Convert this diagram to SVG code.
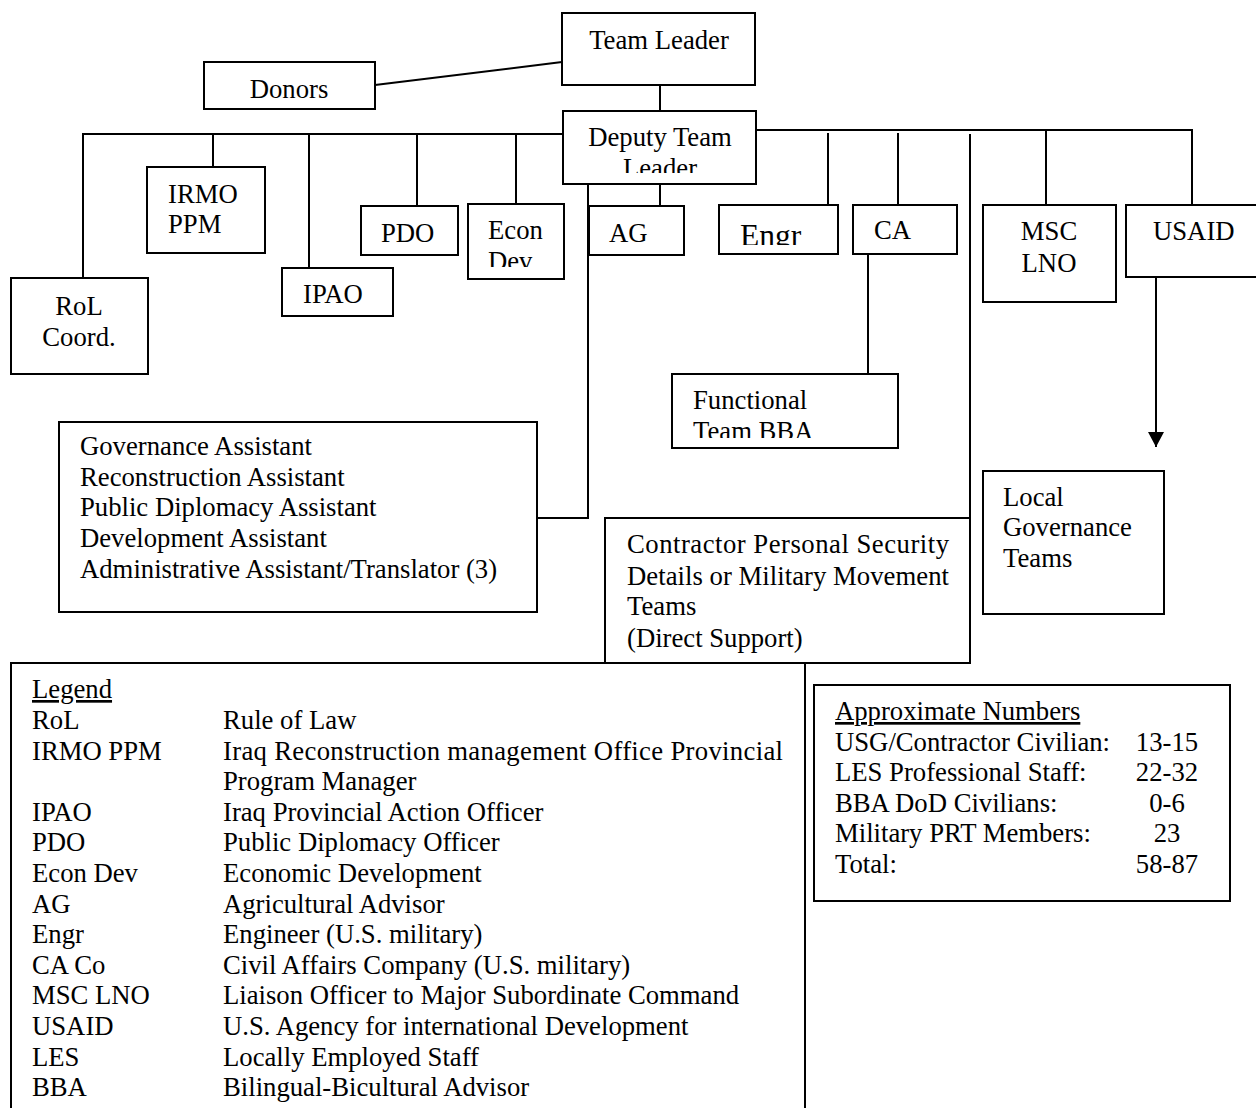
<svg xmlns="http://www.w3.org/2000/svg" width="1256" height="1108" viewBox="0 0 1256 1108">
<style>
.b{fill:#fff;stroke:#000;stroke-width:2}
.c{fill:none;stroke:#000;stroke-width:2}
text{font-family:"Liberation Serif","Times New Roman",serif;font-size:26.7px;fill:#000}
.m{text-anchor:middle}
.u{text-decoration:underline}
</style>
<defs>
<clipPath id="cDep"><rect x="563" y="111" width="193" height="62"/></clipPath>
<clipPath id="cEcon"><rect x="468" y="204" width="96" height="63"/></clipPath>
<clipPath id="cEngr"><rect x="719" y="204" width="119" height="41"/></clipPath>
<clipPath id="cFun"><rect x="672" y="374" width="226" height="64"/></clipPath>
<marker id="arr" markerWidth="16" markerHeight="16" refX="15" refY="8" orient="auto" markerUnits="userSpaceOnUse" viewBox="0 0 16 16">
<path d="M0,0 L15,8 L0,16 Z" fill="#000"/>
</marker>
</defs>
<rect width="1256" height="1108" fill="#fff"/>
<g id="connectors">
<line class="c" x1="375" y1="85" x2="562" y2="62"/>
<line class="c" x1="660" y1="85" x2="660" y2="111"/>
<polyline class="c" points="563,134 83,134 83,278"/>
<line class="c" x1="213" y1="134" x2="213" y2="167"/>
<line class="c" x1="309" y1="134" x2="309" y2="268"/>
<line class="c" x1="417" y1="134" x2="417" y2="206"/>
<line class="c" x1="516" y1="134" x2="516" y2="204"/>
<line class="c" x1="660" y1="184" x2="660" y2="206"/>
<polyline class="c" points="588,182 588,518 537,518"/>
<polyline class="c" points="756,130 1192,130 1192,205"/>
<line class="c" x1="828" y1="133" x2="828" y2="205"/>
<line class="c" x1="898" y1="133" x2="898" y2="205"/>
<line class="c" x1="1046" y1="130" x2="1046" y2="205"/>
<line class="c" x1="970" y1="134" x2="970" y2="518"/>
<line class="c" x1="868" y1="254" x2="868" y2="374"/>
<line class="c" x1="1156" y1="277" x2="1156" y2="447" marker-end="url(#arr)"/>
</g>
<g id="team-leader">
<rect class="b" x="562" y="13" width="193" height="72"/>
<text class="m" x="659" y="49">Team Leader</text>
</g>
<g id="donors">
<rect class="b" x="204" y="62" width="171" height="47"/>
<text class="m" x="289" y="98">Donors</text>
</g>
<g id="deputy-team-leader">
<rect class="b" x="563" y="111" width="193" height="73"/>
<g clip-path="url(#cDep)">
<text class="m" x="660" y="146">Deputy Team</text>
<text class="m" x="660" y="177">Leader</text>
</g>
</g>
<g id="rol-coord">
<rect class="b" x="11" y="278" width="137" height="96"/>
<text class="m" x="79" y="315">RoL</text>
<text class="m" x="79" y="346">Coord.</text>
</g>
<g id="irmo-ppm">
<rect class="b" x="147" y="167" width="118" height="86"/>
<text x="168" y="203">IRMO</text>
<text x="168" y="233">PPM</text>
</g>
<g id="ipao">
<rect class="b" x="282" y="268" width="111" height="48"/>
<text x="303" y="303">IPAO</text>
</g>
<g id="pdo">
<rect class="b" x="361" y="206" width="97" height="49"/>
<text x="381" y="242">PDO</text>
</g>
<g id="econ-dev">
<rect class="b" x="468" y="204" width="96" height="75"/>
<g clip-path="url(#cEcon)">
<text x="488" y="239">Econ</text>
<text x="488" y="270">Dev</text>
</g>
</g>
<g id="ag">
<rect class="b" x="589" y="206" width="95" height="49"/>
<text x="609" y="242">AG</text>
</g>
<g id="engr">
<rect class="b" x="719" y="205" width="119" height="49"/>
<g clip-path="url(#cEngr)">
<text x="740" y="246" style="font-size:31.5px">Engr</text>
</g>
</g>
<g id="ca">
<rect class="b" x="853" y="205" width="104" height="49"/>
<text x="874" y="239">CA</text>
</g>
<g id="msc-lno">
<rect class="b" x="983" y="205" width="133" height="97"/>
<text class="m" x="1049" y="240">MSC</text>
<text class="m" x="1049" y="272">LNO</text>
</g>
<g id="usaid">
<rect class="b" x="1126" y="205" width="140" height="72"/>
<text x="1153" y="240">USAID</text>
</g>
<g id="functional-team-bba">
<rect class="b" x="672" y="374" width="226" height="74"/>
<g clip-path="url(#cFun)">
<text x="693" y="409">Functional</text>
<text x="693" y="440">Team BBA</text>
</g>
</g>
<g id="local-governance-teams">
<rect class="b" x="983" y="471" width="181" height="143"/>
<text x="1003" y="506">Local</text>
<text x="1003" y="536">Governance</text>
<text x="1003" y="567">Teams</text>
</g>
<g id="assistants">
<rect class="b" x="59" y="422" width="478" height="190"/>
<text x="80" y="455">Governance Assistant</text>
<text x="80" y="486">Reconstruction Assistant</text>
<text x="80" y="516">Public Diplomacy Assistant</text>
<text x="80" y="547">Development Assistant</text>
<text x="80" y="578">Administrative Assistant/Translator (3)</text>
</g>
<g id="security">
<rect class="b" x="605" y="518" width="365" height="145"/>
<text x="627" y="553" textLength="322" lengthAdjust="spacing">Contractor Personal Security</text>
<text x="627" y="585" textLength="322" lengthAdjust="spacing">Details or Military Movement</text>
<text x="627" y="615">Teams</text>
<text x="627" y="647">(Direct Support)</text>
</g>
<g id="legend">
<rect class="b" x="11" y="663" width="794" height="460"/>
<text class="u" x="32" y="698">Legend</text>
<text x="32" y="729">RoL</text><text x="223" y="729">Rule of Law</text>
<text x="32" y="760">IRMO PPM</text><text x="223" y="760" textLength="560" lengthAdjust="spacing">Iraq Reconstruction management Office Provincial</text>
<text x="223" y="790">Program Manager</text>
<text x="32" y="821">IPAO</text><text x="223" y="821">Iraq Provincial Action Officer</text>
<text x="32" y="851">PDO</text><text x="223" y="851">Public Diplomacy Officer</text>
<text x="32" y="882">Econ Dev</text><text x="223" y="882">Economic Development</text>
<text x="32" y="913">AG</text><text x="223" y="913">Agricultural Advisor</text>
<text x="32" y="943">Engr</text><text x="223" y="943">Engineer (U.S. military)</text>
<text x="32" y="974">CA Co</text><text x="223" y="974">Civil Affairs Company (U.S. military)</text>
<text x="32" y="1004">MSC LNO</text><text x="223" y="1004">Liaison Officer to Major Subordinate Command</text>
<text x="32" y="1035">USAID</text><text x="223" y="1035">U.S. Agency for international Development</text>
<text x="32" y="1066">LES</text><text x="223" y="1066">Locally Employed Staff</text>
<text x="32" y="1096">BBA</text><text x="223" y="1096">Bilingual-Bicultural Advisor</text>
</g>
<g id="approximate-numbers">
<rect class="b" x="814" y="685" width="416" height="216"/>
<text class="u" x="835" y="720">Approximate Numbers</text>
<text x="835" y="751">USG/Contractor Civilian:</text><text class="m" x="1167" y="751">13-15</text>
<text x="835" y="781">LES Professional Staff:</text><text class="m" x="1167" y="781">22-32</text>
<text x="835" y="812">BBA DoD Civilians:</text><text class="m" x="1167" y="812">0-6</text>
<text x="835" y="842">Military PRT Members:</text><text class="m" x="1167" y="842">23</text>
<text x="835" y="873">Total:</text><text class="m" x="1167" y="873">58-87</text>
</g>
</svg>
